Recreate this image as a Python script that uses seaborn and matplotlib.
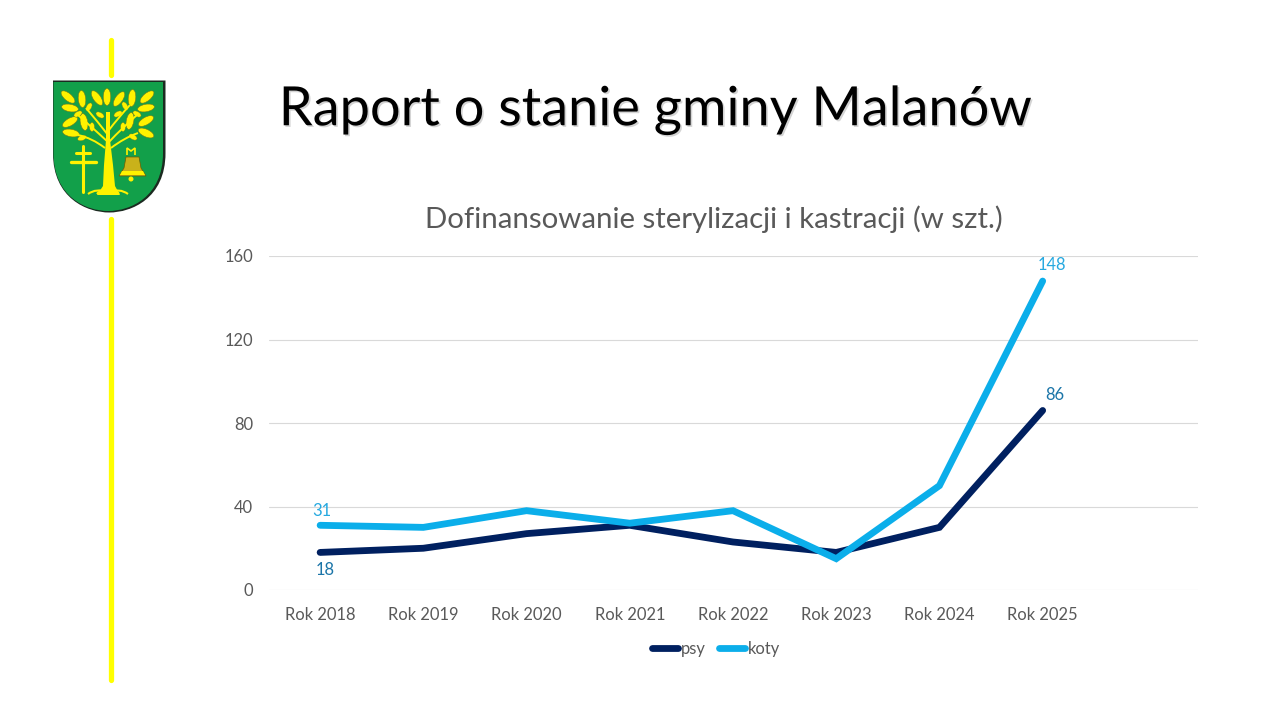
import numpy as np
import pandas as pd
import seaborn as sns
import matplotlib
matplotlib.use("Agg")
import matplotlib.pyplot as plt
import matplotlib.patheffects as pe
from matplotlib.patches import Ellipse, Polygon, PathPatch
from matplotlib.path import Path
from matplotlib.lines import Line2D

years = ["Rok 2018", "Rok 2019", "Rok 2020", "Rok 2021", "Rok 2022", "Rok 2023", "Rok 2024", "Rok 2025"]
psy = [18, 20, 27, 31, 23, 18, 30, 86]
koty = [31, 30, 38, 32, 38, 15, 50, 148]
yticks = [0, 40, 80, 120, 160]
main_title = "Raport o stanie gminy Malanów"
chart_title = "Dofinansowanie sterylizacji i kastracji (w szt.)"

NAVY, SKY, GREY = "#002060", "#0BAEEA", "#595959"
W, H = 1280, 720
LW = 4.9
FS = 11.9

sns.set_theme(style="white")
plt.rcParams["font.family"] = ["Lato", "DejaVu Sans"]

fig = plt.figure(figsize=(12.8, 7.2), dpi=100, facecolor="white")
ax = fig.add_axes([268.5 / W, 1 - 590 / H, (1197.5 - 268.5) / W, (590 - 256) / H])

df = pd.DataFrame({"rok": years * 2, "liczba": psy + koty,
                   "seria": ["psy"] * len(years) + ["koty"] * len(years)})
df["x"] = df["rok"].map({y: i for i, y in enumerate(years)})
sns.lineplot(data=df, x="x", y="liczba", hue="seria", hue_order=["psy", "koty"],
             palette={"psy": NAVY, "koty": SKY}, linewidth=LW, legend=False, ax=ax,
             solid_capstyle="round", solid_joinstyle="miter", errorbar=None)

ax.set_xlim(-0.5, 8.5)
ax.set_ylim(0, 160)
ax.set_xticks(range(len(years)))
ax.set_xticklabels(years)
ax.set_yticks(yticks)
ax.set_xlabel("")
ax.set_ylabel("")
ax.yaxis.grid(True, color="#D9D9D9", linewidth=0.8)
ax.xaxis.grid(False)
ax.set_axisbelow(True)
for s in ax.spines.values():
    s.set_visible(False)
ax.tick_params(axis="x", length=0, pad=12, labelsize=FS, labelcolor=GREY)
ax.tick_params(axis="y", length=0, pad=11, labelsize=FS, labelcolor=GREY)

lab_psy, lab_koty = "#1B75A8", "#26A9E0"
ax.annotate(str(psy[0]), (0, psy[0]), xytext=(4, -12.5), textcoords="offset points", ha="center", va="center", color=lab_psy, fontsize=FS)
ax.annotate(str(koty[0]), (0, koty[0]), xytext=(1, 10.5), textcoords="offset points", ha="center", va="center", color=lab_koty, fontsize=FS)
ax.annotate(str(psy[-1]), (7, psy[-1]), xytext=(9, 11.5), textcoords="offset points", ha="center", va="center", color=lab_psy, fontsize=FS)
ax.annotate(str(koty[-1]), (7, koty[-1]), xytext=(7, 11.5), textcoords="offset points", ha="center", va="center", color=lab_koty, fontsize=FS)

# overlay in pixel coordinates for slide decoration
ov = fig.add_axes([0, 0, 1, 1], zorder=5)
ov.set_xlim(0, W)
ov.set_ylim(H, 0)
ov.axis("off")
ov.patch.set_alpha(0)

ov.text(655, 110, main_title, ha="center", va="center", fontsize=39, color="black",
        path_effects=[pe.SimplePatchShadow(offset=(1.2, -1.2), alpha=0.25, shadow_rgbFace="#555555"), pe.Normal()])
ov.text(713.5, 219, chart_title, ha="center", va="center", fontsize=21.2, color=GREY)

# legend
leg = [Line2D([0], [0], color=NAVY, lw=LW, solid_capstyle="round"),
       Line2D([0], [0], color=SKY, lw=LW, solid_capstyle="round")]
fig.legend(leg, ["psy", "koty"], loc="center", bbox_to_anchor=(716 / W, 1 - 649 / H), ncol=2,
           frameon=False, fontsize=FS, labelcolor=GREY, handlelength=1.6, handletextpad=0.15,
           columnspacing=0.8, borderpad=0)

# yellow bars
Y = "#FFFF00"
ov.plot([110.5, 110.5], [40, 75], color=Y, lw=3.8, solid_capstyle="round")
ov.plot([110.5, 110.5], [219, 680], color=Y, lw=3.8, solid_capstyle="round")

# coat of arms
def shield(l, r, t, b):
    m = (l + r) / 2
    return Path([(l, t), (r, t), (r, t + (b - t) * .55), (r, b - 14), (m + 22, b), (m, b),
                 (m - 22, b), (l, b - 14), (l, t + (b - t) * .55), (l, t), (l, t)],
                [Path.MOVETO, Path.LINETO, Path.LINETO, Path.CURVE4, Path.CURVE4, Path.CURVE4,
                 Path.CURVE4, Path.CURVE4, Path.CURVE4, Path.LINETO, Path.CLOSEPOLY])
ov.add_patch(PathPatch(shield(53, 165.5, 80.5, 212.5), fc="#1B2A20", ec="none"))
ov.add_patch(PathPatch(shield(53.5, 163, 82, 211), fc="#12A04A", ec="none"))
TREE = "#FFF200"
EDGE = "#6B7A1E"
leaves = [(68, 97, 40), (82, 99, 85), (97, 98, 55), (107, 97, 90), (119, 99, 125), (132, 98, 95), (147, 97, 140),
          (70, 108, 10), (146, 108, 170), (70, 122, 150), (84, 122, 80), (130, 121, 100), (146, 121, 150),
          (71, 133, 10), (146, 133, 25)]
for x, y, a in leaves:
    ov.add_patch(Ellipse((x, y), 17, 7.5, angle=a, fc=TREE, ec=EDGE, lw=0.4))
for x, y, a in [(89, 107, 120), (78, 114, 150), (100, 115, 30), (125, 106, 60), (137, 114, 30), (118, 114, 150),
                (92, 127, 90), (123, 127, 90), (82, 138, 160), (133, 137, 30)]:
    ov.add_patch(Ellipse((x, y), 9, 5, angle=a, fc=TREE, ec=EDGE, lw=0.3))
ov.add_patch(Polygon([(106, 112), (110, 112), (110, 140), (113, 165), (115, 186), (120, 195), (97, 195), (103, 186), (104, 165), (106, 140)],
                     fc=TREE, ec="none"))
for (x0, y0, x1, y1, x2, y2) in [(108, 142, 95, 130, 78, 115), (108, 135, 98, 122, 86, 108), (109, 142, 122, 128, 137, 115),
                                 (109, 130, 118, 118, 130, 105), (105, 148, 92, 138, 78, 135), (111, 148, 124, 138, 138, 133)]:
    ov.add_patch(PathPatch(Path([(x0, y0), (x1, y1), (x2, y2)], [Path.MOVETO, Path.CURVE3, Path.CURVE3]),
                           fc="none", ec=TREE, lw=1.4))
# roots
for dx in (-20, -11, 11, 20):
    ov.add_patch(PathPatch(Path([(108, 192), (108 + dx * .6, 188), (108 + dx, 194)], [Path.MOVETO, Path.CURVE3, Path.CURVE3]),
                           fc="none", ec=TREE, lw=1.5))
# double cross
ov.plot([83, 83], [146, 192], color=TREE, lw=2.2)
ov.plot([76, 90], [153, 153], color=TREE, lw=2.2)
ov.plot([71, 96], [162, 162], color=TREE, lw=2.4)
# bell
ov.add_patch(Polygon([(126, 157), (139, 157), (141, 168), (146, 176), (119, 176), (124, 168)], fc="#C9B21A", ec="#6B5E00", lw=0.5))
ov.add_patch(Polygon([(122, 171), (143, 171), (145, 175), (120, 175)], fc=TREE, ec="none"))
ov.add_patch(Ellipse((131, 179), 5, 5, fc=TREE, ec="none"))
ov.add_patch(PathPatch(Path([(127, 155), (127, 148), (131, 151), (135, 148), (135, 155)]), fc="none", ec=TREE, lw=1.2))

fig.savefig("out.png", dpi=100, facecolor="white")
